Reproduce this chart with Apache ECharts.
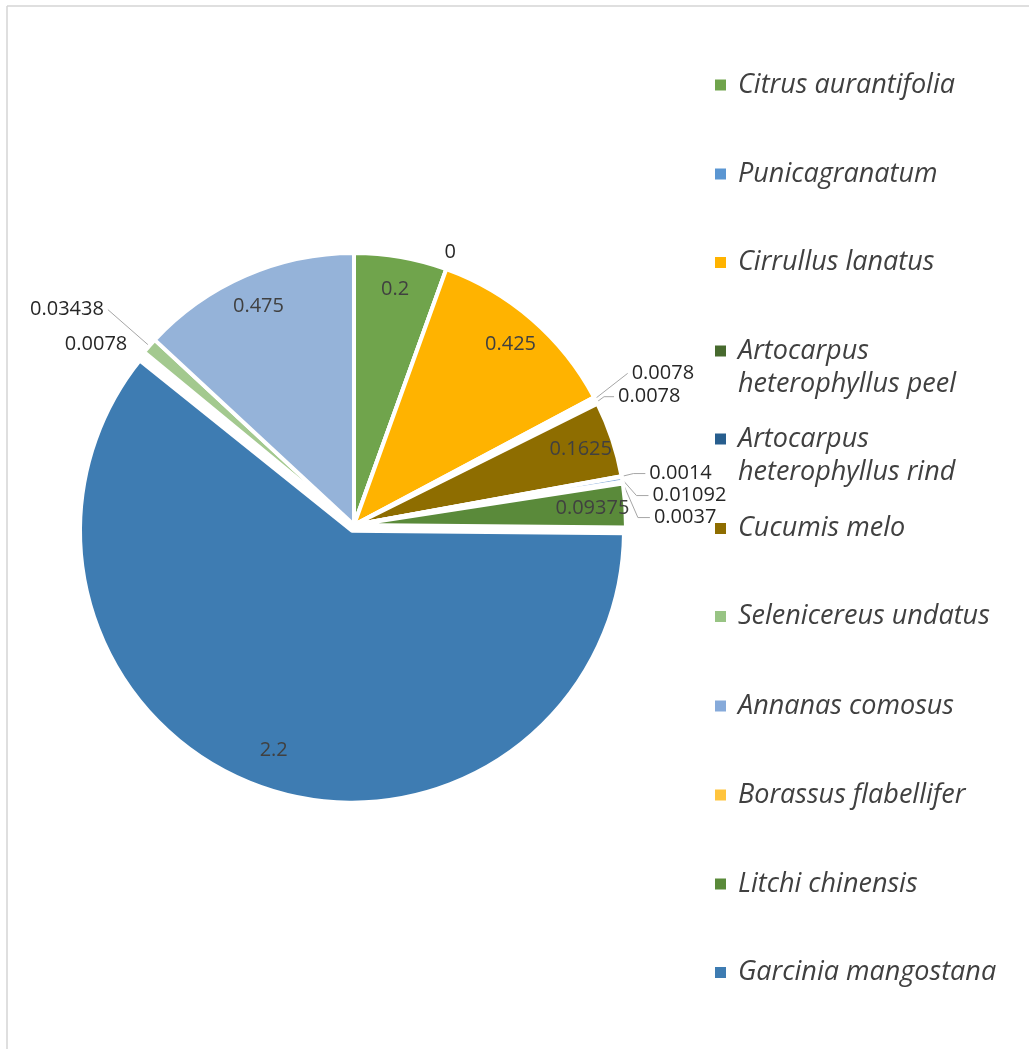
<!DOCTYPE html>
<html><head><meta charset="utf-8">
<script src="https://cdn.jsdelivr.net/npm/echarts@6/dist/echarts.min.js"></script>
<style>html,body{margin:0;padding:0;background:#fff}#c{width:1029px;height:1049px}</style>
</head><body><div id="c"></div>
<script>
// ---- data ----
const categories = ['Citrus aurantifolia','Punicagranatum','Cirrullus lanatus','Artocarpus heterophyllus peel','Artocarpus heterophyllus rind','Cucumis melo','Selenicereus undatus','Annanas comosus','Borassus flabellifer','Litchi chinensis','Garcinia mangostana','Item 12','Item 13','Item 14'];
const values = [0.2, 0, 0.425, 0.0078, 0.0078, 0.1625, 0.0014, 0.01092, 0.0037, 0.09375, 2.2, 0.0078, 0.03438, 0.475];
const legendNames = categories.slice(0, 11);
const colors = ['#70A44C','#5B96D2','#FFB300','#476A2E','#285E8E','#8E6D00','#98C484','#86AADA','#FFC43D','#5A8A3A','#3E7CB2','#C49600','#A3C98F','#95B3D9'];
const insideLabel = [true,false,true,false,false,true,false,false,false,true,true,false,false,true];

// ---- layout / style ----
const legendCenters = [85,174,262.5,351,439,528.5,616.5,706,795,884,972.5];
const twoLine = {'Artocarpus heterophyllus peel':'\nArtocarpus\nheterophyllus peel','Artocarpus heterophyllus rind':'\nArtocarpus\nheterophyllus rind'};
// per-slice leader line settings for outside labels: [length, length2, showLine]
const leader = {1:[18,0,false], 3:[55,0,true], 4:[12,10,true], 6:[16,12,true], 7:[16,12,true], 8:[16,12,true], 11:[15,0,false], 12:[55,0,true]};
const LH = 33;
const FONT = 'Open Sans';
const legends = legendNames.map((n, i) => {
  const multi = !!twoLine[n];
  return {
    data: [n], orient: 'vertical', left: 713,
    top: multi ? legendCenters[i] - 1.5 * LH : legendCenters[i] - LH / 2,
    itemWidth: 13, itemHeight: 13, padding: 0, icon: 'rect', selectedMode: false,
    formatter: nm => twoLine[nm] || nm,
    textStyle: {fontFamily: FONT, fontStyle: 'italic', fontSize: 27, color: '#404040', lineHeight: LH, padding: [0, 0, 0, 6]}
  };
});

const chart = echarts.init(document.getElementById('c'), null, {renderer: 'canvas'});
const center = [354, 525], R = 272;
chart.setOption({
  animation: false,
  backgroundColor: '#fff',
  legend: legends,
  graphic: [
    {type: 'line', shape: {x1: 7, y1: 6, x2: 1029, y2: 6}, style: {stroke: '#D4D4D4', lineWidth: 1.5}},
    {type: 'line', shape: {x1: 7, y1: 6, x2: 7, y2: 1049}, style: {stroke: '#D4D4D4', lineWidth: 1.5}}
  ],
  series: [
    {
      type: 'pie', center: center, radius: [0, R], startAngle: 90, clockwise: true,
      selectedMode: 'multiple', selectedOffset: 6,
      avoidLabelOverlap: true,
      emphasis: {disabled: true},
      itemStyle: {borderColor: '#fff', borderWidth: 4},
      label: {show: true, position: 'outside', fontFamily: FONT, fontSize: 20, color: '#262626', formatter: '{c}', distanceToLabelLine: 4},
      labelLine: {show: true, length: 18, length2: 12, lineStyle: {color: '#A6A6A6', width: 1}},
      data: categories.map((n, i) => {
        const item = {name: n, value: values[i], selected: i === 10, itemStyle: {color: colors[i]}, label: {show: !insideLabel[i]}};
        const ld = leader[i];
        if (ld) {
          item.labelLine = {show: ld[2], length: ld[0], length2: ld[1]};
          if (i === 1) item.label.distanceToLabelLine = -8;
        } else {
          item.labelLine = {show: false};
        }
        return item;
      })
    },
    {
      type: 'pie', center: center, radius: [200, R], startAngle: 90, clockwise: true,
      silent: true, avoidLabelOverlap: false,
      emphasis: {disabled: true},
      itemStyle: {color: 'rgba(0,0,0,0)', borderWidth: 0},
      label: {show: true, position: 'inside', fontFamily: FONT, fontSize: 20, color: '#404040', formatter: '{c}'},
      labelLine: {show: false},
      data: categories.map((n, i) => ({
        name: n, value: values[i],
        label: {show: insideLabel[i]}
      }))
    }
  ]
});
</script>
</body></html>
